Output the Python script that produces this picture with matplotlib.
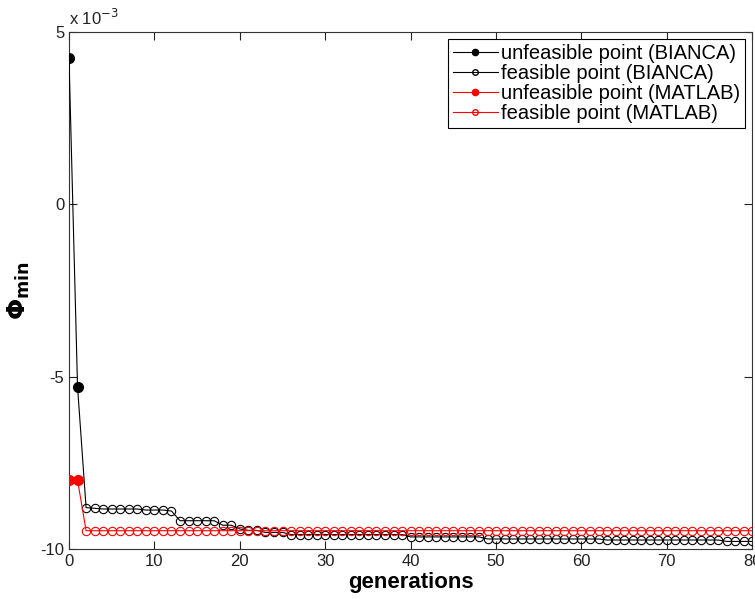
import numpy as np
import matplotlib
matplotlib.use("Agg")
import matplotlib.pyplot as plt
from matplotlib.ticker import FuncFormatter

plt.rcParams['font.family'] = ['Liberation Sans', 'DejaVu Sans']

# generations 0..80, values of Phi_min
generations = np.arange(0, 81)

# BIANCA: unfeasible at gens 0-1, feasible from gen 2 on
bianca_unfeasible = [4.24e-3, -5.30e-3]
bianca_feasible = ([-8.80e-3, -8.82e-3] + [-8.84e-3] * 5 + [-8.87e-3] * 3 + [-8.90e-3]
                   + [-9.18e-3] * 5 + [-9.31e-3] * 2 + [-9.42e-3] + [-9.46e-3] * 2
                   + [-9.52e-3] * 3 + [-9.58e-3] * 14 + [-9.65e-3] * 9
                   + [-9.71e-3] * 14 + [-9.74e-3] * 14 + [-9.78e-3] * 4)

# MATLAB: unfeasible at gens 0-1, feasible from gen 2 on
matlab_unfeasible = [-8.00e-3, -8.00e-3]
matlab_feasible = [-9.47e-3] * 79

bianca = np.array(bianca_unfeasible + bianca_feasible)
matlab = np.array(matlab_unfeasible + matlab_feasible)

fig = plt.figure(figsize=(7.55, 5.99), dpi=100)
ax = fig.add_axes([0.0914, 0.0835, 0.905, 0.863])

ms = 6
# feasible lines start at gen 1 so the 1->2 drop is drawn, markers only from gen 2
ax.plot(generations[1:], bianca[1:], '-o', color='black', lw=0.8, ms=ms,
        mfc='none', mew=0.8, markevery=list(range(1, 80)), zorder=3)
ax.plot(generations[1:], matlab[1:], '-o', color='red', lw=0.8, ms=ms,
        mfc='none', mew=0.8, markevery=list(range(1, 80)), zorder=4)
ax.plot(generations[:2], bianca[:2], '-o', color='black', lw=0.8, ms=ms + 1,
        mfc='black', zorder=5)
ax.plot(generations[:2], matlab[:2], '-o', color='red', lw=0.8, ms=ms + 1,
        mfc='red', zorder=5)

# legend proxies with small markers like the original
h1, = ax.plot([], [], '-o', color='black', lw=0.8, ms=4.5, mfc='black')
h2, = ax.plot([], [], '-o', color='black', lw=0.8, ms=4, mfc='none')
h3, = ax.plot([], [], '-o', color='red', lw=0.8, ms=4.5, mfc='red')
h4, = ax.plot([], [], '-o', color='red', lw=0.8, ms=4, mfc='none')
leg = ax.legend([h1, h2, h3, h4],
                ['unfeasible point (BIANCA)', 'feasible point (BIANCA)',
                 'unfeasible point (MATLAB)', 'feasible point (MATLAB)'],
                loc='upper right', bbox_to_anchor=(0.989, 0.987),
                fontsize=14.5, fancybox=False, framealpha=1,
                edgecolor='black', handlelength=2.2, handletextpad=0.15,
                borderpad=0.25, labelspacing=0.05, borderaxespad=0.0)
leg.get_frame().set_linewidth(0.8)

ax.set_xlim(0, 80)
ax.set_ylim(-10e-3, 5e-3)
ax.set_xticks(np.arange(0, 81, 10))
ax.set_yticks([-10e-3, -5e-3, 0, 5e-3])
ax.yaxis.set_major_formatter(FuncFormatter(lambda v, p: f"{v * 1e3:g}"))
ax.tick_params(direction='in', top=True, right=True, labelsize=12,
               length=6, width=0.8, colors='#222222')
for s in ax.spines.values():
    s.set_linewidth(0.8)
    s.set_color('#333333')

ax.text(0.0, 1.008, r'x 10$^{-3}$', transform=ax.transAxes, fontsize=12,
        ha='left', va='bottom', color='#222222')

ax.set_xlabel('generations', fontsize=16, fontweight='bold', labelpad=2)
ax.set_ylabel(r'$\mathbf{\Phi}_{\mathbf{min}}$', fontsize=18, labelpad=6)

fig.savefig('out.png', dpi=100)
